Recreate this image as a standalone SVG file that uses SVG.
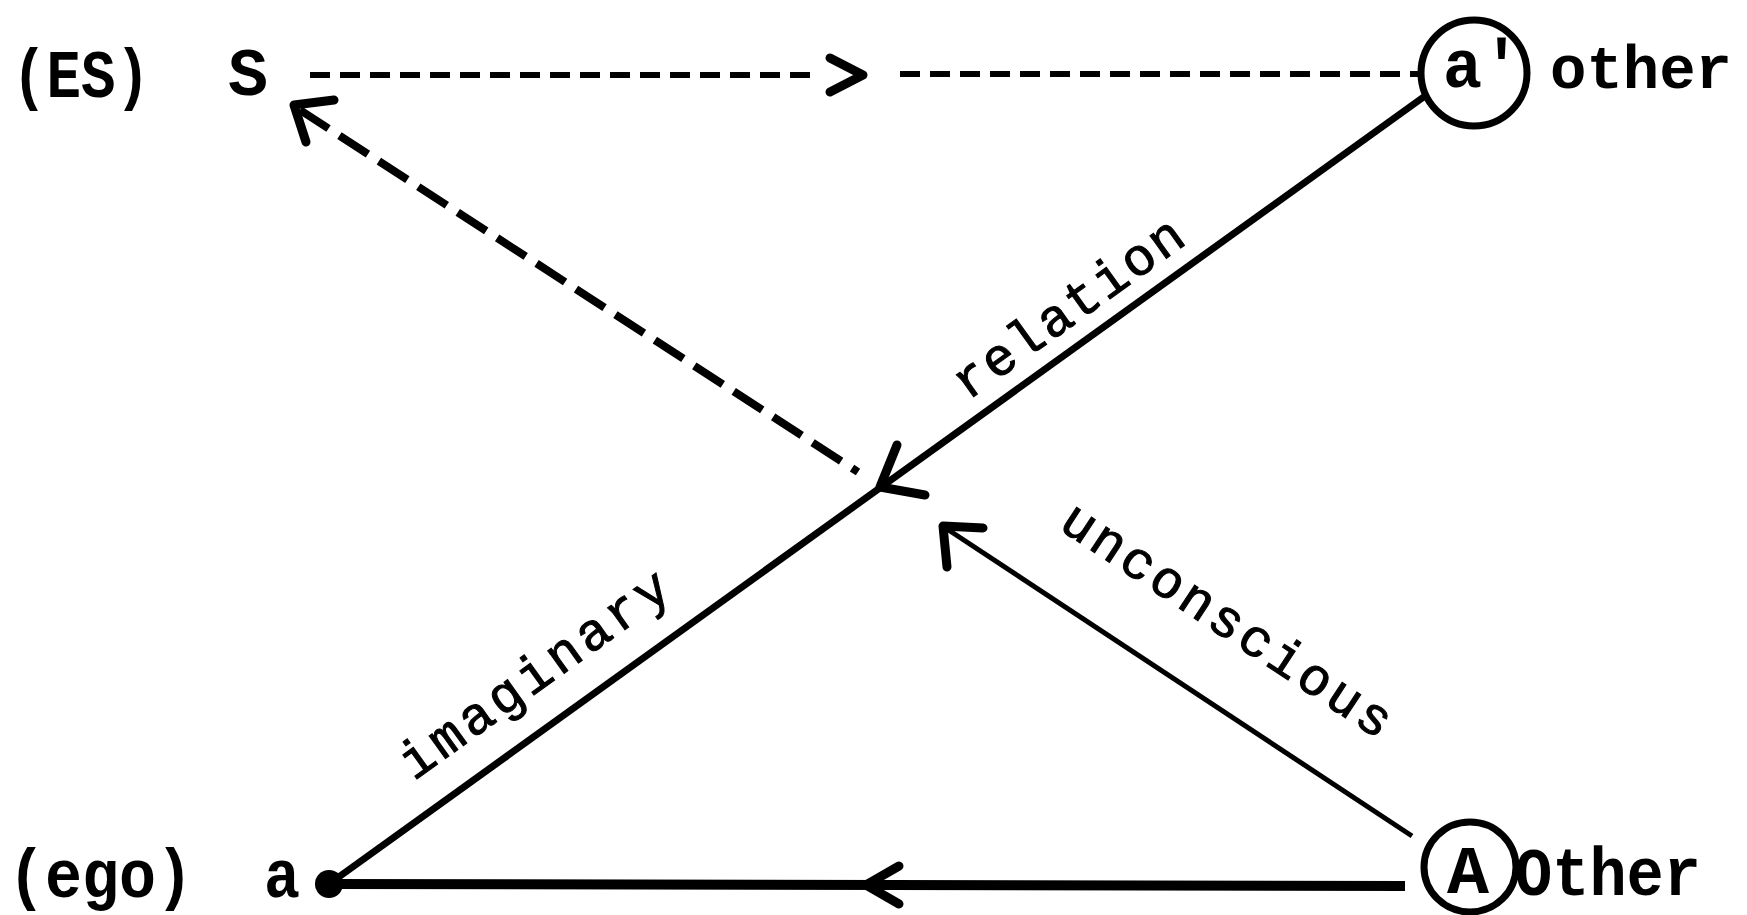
<svg xmlns="http://www.w3.org/2000/svg" width="1747" height="915" viewBox="0 0 1747 915">
<style>
.big{font-family:"Liberation Mono","DejaVu Sans Mono",monospace;font-size:68px;font-weight:bold;fill:#000}
.lab{font-family:"Liberation Mono","DejaVu Sans Mono",monospace;font-size:53px;fill:#000;stroke:#000;stroke-width:1}
.ln{fill:none;stroke:#000;stroke-linecap:butt}
.head{fill:none;stroke:#000;stroke-width:9;stroke-linecap:round;stroke-linejoin:round}
.ring{fill:none;stroke:#000;stroke-width:7}
</style>
<rect width="1747" height="915" fill="#fff"/>
<g id="labels">
<text class="big" x="12" y="97" textLength="138" lengthAdjust="spacingAndGlyphs">(ES)</text>
<text class="big" x="8" y="897" textLength="185" lengthAdjust="spacingAndGlyphs">(ego)</text>
<text class="big" x="1550" y="88" style="font-size:62px" textLength="182" lengthAdjust="spacingAndGlyphs">other</text>
<text class="big" x="1515" y="895" textLength="186" lengthAdjust="spacingAndGlyphs">Other</text>
</g>
<g id="node-S">
<text class="big" x="228" y="95" textLength="40" lengthAdjust="spacingAndGlyphs">S</text>
</g>
<g id="node-a-prime">
<circle class="ring" cx="1474" cy="73" r="53"/>
<text class="big" x="1443" y="87" textLength="78" lengthAdjust="spacingAndGlyphs">a'</text>
</g>
<g id="node-a">
<text class="big" x="264" y="897" textLength="36" lengthAdjust="spacingAndGlyphs">a</text>
<circle cx="329" cy="884" r="14" fill="#000"/>
</g>
<g id="node-A">
<ellipse class="ring" cx="1470" cy="867" rx="46" ry="45"/>
<text class="big" x="1447" y="893" textLength="42" lengthAdjust="spacingAndGlyphs">A</text>
</g>
<g id="connectors">
<path class="ln" d="M310 75 H820" stroke-width="6" stroke-dasharray="20 10"/>
<polyline class="head" points="830,58 863,75 830,92" stroke-width="7"/>
<path class="ln" d="M900 74 H1421" stroke-width="6" stroke-dasharray="20 10"/>
<path class="ln" d="M300 110 L858 472" stroke-width="8" stroke-dasharray="34 13"/>
<polyline class="head" points="334,100 294,105 306,142" stroke-width="12"/>
<path class="ln" d="M329 884 L1425 96" stroke-width="7"/>
<polyline class="head" points="897,445 880,487 925,495" stroke-width="10"/>
<path class="ln" d="M1412 836 L944 527" stroke-width="5"/>
<polyline class="head" points="983,528 943,526 947,567" stroke-width="10"/>
<path class="ln" d="M329 884 L1405 886" stroke-width="10"/>
<polyline class="head" points="899,866 866,885 899,904" stroke-width="8"/>
</g>
<g id="edge-labels">
<text class="lab" transform="translate(1078,322) rotate(-35.7)" text-anchor="middle" textLength="272" lengthAdjust="spacing">relation</text>
<text class="lab" transform="translate(544,688) rotate(-35.7)" text-anchor="middle" textLength="320" lengthAdjust="spacing">imaginary</text>
<text class="lab" transform="translate(1218,634) rotate(33.4)" text-anchor="middle" textLength="385" lengthAdjust="spacing">unconscious</text>
</g>
</svg>
